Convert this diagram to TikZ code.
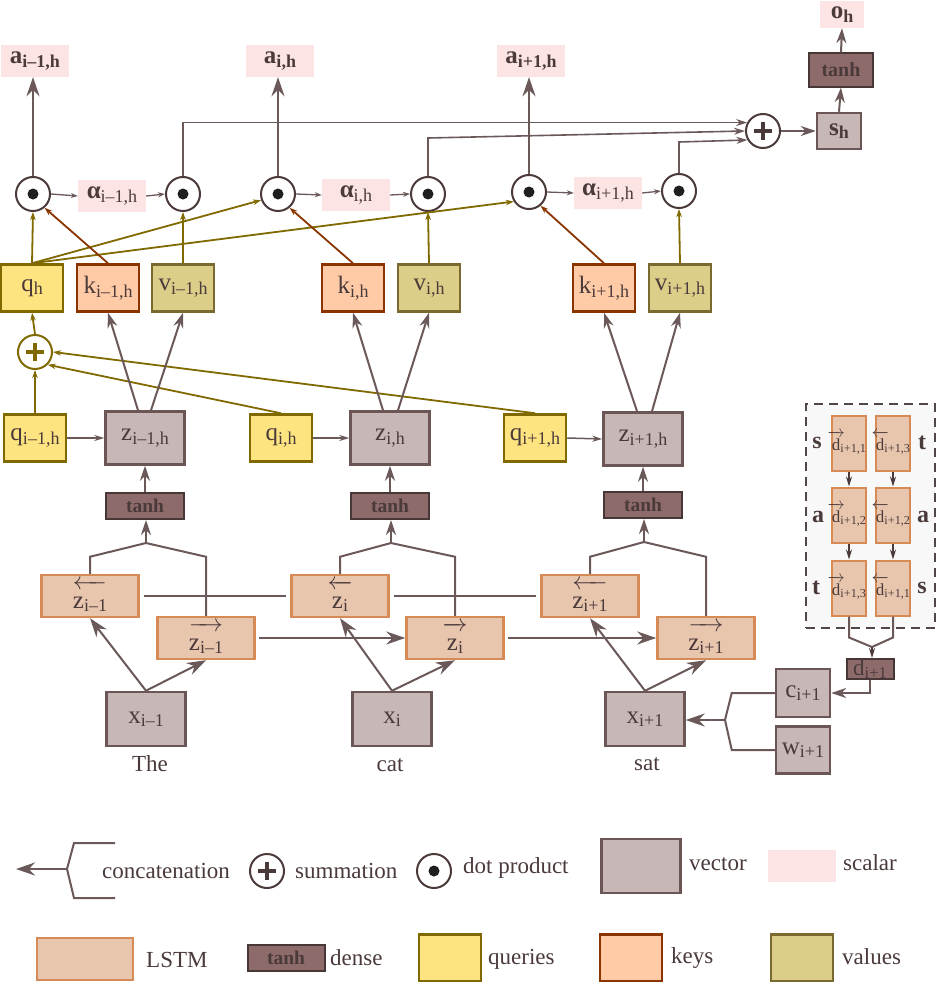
\documentclass[tikz,border=0pt]{standalone}
\usepackage{fontspec}
\usepackage{graphicx}
\usetikzlibrary{arrows.meta}
\setmainfont{Liberation Serif}
\definecolor{txt}{RGB}{75,58,58}
\definecolor{linec}{RGB}{107,88,88}
\definecolor{vecf}{RGB}{200,183,183}
\definecolor{vecb}{RGB}{107,85,85}
\definecolor{dnsf}{RGB}{142,107,107}
\definecolor{dnsb}{RGB}{72,55,55}
\definecolor{sclf}{RGB}{252,228,228}
\definecolor{lstf}{RGB}{232,198,174}
\definecolor{lstb}{RGB}{214,139,87}
\definecolor{qf}{RGB}{254,228,128}
\definecolor{qb}{RGB}{128,106,0}
\definecolor{kf}{RGB}{255,203,166}
\definecolor{kb}{RGB}{138,53,0}
\definecolor{vf}{RGB}{220,206,136}
\definecolor{vb}{RGB}{122,106,48}
\definecolor{qline}{RGB}{128,106,0}
\definecolor{boxbg}{RGB}{248,248,248}
\definecolor{dashc}{RGB}{80,70,70}
\newcommand{\sub}[1]{\raisebox{-0.3ex}{\scalebox{0.72}{#1}}}
\newcommand{\fwd}[1]{$\overrightarrow{\mbox{\rule{0pt}{0.8em}#1}}$}
\newcommand{\bwd}[1]{$\overleftarrow{\mbox{\rule{0pt}{0.8em}#1}}$}
\newcommand{\dfwd}{\makebox[0.5em]{$\overrightarrow{\mbox{\rule{0pt}{0.8em}d}}$}}
\newcommand{\dbwd}{\makebox[0.5em]{$\overleftarrow{\mbox{\rule{0pt}{0.8em}d}}$}}
\begin{document}
\begin{tikzpicture}[x=1pt,y=-1pt]
    \tikzstyle{every node}+=[inner sep=0pt, text=txt, font=\fontsize{25}{28}\selectfont]
    \tikzstyle{vecbox}=[draw=vecb, fill=vecf, line width=2.5pt, minimum width=79pt, minimum height=53pt]
    \tikzstyle{densebox}=[draw=dnsb, fill=dnsf, line width=2pt, minimum width=78pt, minimum height=26pt, font=\fontsize{19.5}{22}\selectfont\bfseries]
    \tikzstyle{lstmbox}=[draw=lstb, fill=lstf, line width=2.5pt, minimum width=97pt, minimum height=42pt]
    \tikzstyle{qbox}=[draw=qb, fill=qf, line width=2.5pt, minimum width=62pt, minimum height=47pt]
    \tikzstyle{kbox}=[qbox, draw=kb, fill=kf]
    \tikzstyle{vbox}=[qbox, draw=vb, fill=vf]
    \tikzstyle{scal}=[fill=sclf, minimum width=68pt, minimum height=32pt, font=\fontsize{25}{28}\selectfont\bfseries]
    \tikzstyle{dotop}=[circle, draw=txt, fill=white, line width=2pt, minimum size=34pt, path picture={\fill[black!88] (path picture bounding box.center) circle (5.5pt);}]
    \tikzstyle{sumop}=[circle, draw=txt, fill=white, line width=2pt, minimum size=34pt, path picture={\draw[txt, line width=3.5pt] (path picture bounding box.center) +(-9pt,0) -- +(9pt,0) +(0,-9pt) -- +(0,9pt);}]
    \tikzstyle{qsumop}=[sumop, draw=qline, path picture={\draw[qline, line width=3.5pt] (path picture bounding box.center) +(-9pt,0) -- +(9pt,0) +(0,-9pt) -- +(0,9pt);}]
    \tikzstyle{dbox}=[lstmbox, line width=2pt, minimum width=32pt, minimum height=55pt, font=\fontsize{17}{19}\selectfont]
    \tikzstyle{side}=[font=\fontsize{24}{26}\selectfont\bfseries]
    \tikzstyle{lbl}=[font=\fontsize{23}{26}\selectfont, anchor=base west]
    \tikzstyle{seg}=[draw=linec, line width=2pt]
    \tikzstyle{conn}=[draw=linec, line width=2pt, -{Stealth[length=15pt,width=10pt]}]
    \tikzstyle{bigconn}=[draw=linec, line width=2pt, -{Stealth[length=19pt,width=13pt]}]
    \tikzstyle{toparr}=[draw=linec, line width=1.6pt, -{Stealth[length=11pt,width=7pt]}]
    \tikzstyle{thinarr}=[draw=linec, line width=1.3pt, -{Stealth[length=7pt,width=5pt]}]
    \tikzstyle{qzarr}=[draw=linec, line width=1.5pt, -{Stealth[length=10pt,width=6pt]}]
    \tikzstyle{darr}=[draw=txt, line width=1.6pt, -{Stealth[length=10pt,width=6pt]}]
    \tikzstyle{qarr}=[draw=qline, line width=1.8pt, -{Stealth[length=8pt,width=5.5pt]}]
    \tikzstyle{karr}=[draw=kb, line width=1.8pt, -{Stealth[length=8pt,width=5.5pt]}]
    \fill[white] (0,0) rectangle (936,982);
    \useasboundingbox (0,0) rectangle (936,982);
    \node[scal] (a1) at (35,61) {a\sub{i–1,h}};
    \node[scal] (a2) at (280,61) {a\sub{i,h}};
    \node[scal] (a3) at (531,61) {a\sub{i+1,h}};
    \node[scal, minimum width=44pt, minimum height=27pt] (oh) at (842,14.5) {o\sub{h}};
    \node[densebox, minimum width=64pt, minimum height=33pt, font=\fontsize{20}{22}\selectfont\bfseries] (th0) at (841,70) {tanh};
    \node[vecbox, minimum width=44pt, minimum height=36pt, font=\fontsize{25}{28}\selectfont\bfseries] (sh) at (839,131) {s\sub{h}};
    \node[sumop] (plus) at (763,131) {};
    \node[dotop] (dt1) at (33,194) {};
    \node[dotop] (dt2) at (183,194) {};
    \node[dotop] (dt3) at (278,194) {};
    \node[dotop] (dt4) at (428,194) {};
    \node[dotop] (dt5) at (529,192) {};
    \node[dotop] (dt6) at (679,191) {};
    \node[scal, font=\fontsize{25}{28}\selectfont] (al1) at (112,196) {\textbf{α}\sub{i–1,h}};
    \node[scal, font=\fontsize{25}{28}\selectfont] (al2) at (356,195) {\textbf{α}\sub{i,h}};
    \node[scal, font=\fontsize{25}{28}\selectfont] (al3) at (608,193) {\textbf{α}\sub{i+1,h}};
    \node[qbox] (qh) at (32,288) {q\sub{h}};
    \node[kbox] (k1) at (108,288) {k\sub{i–1,h}};
    \node[vbox] (v1) at (183,288) {v\sub{i–1,h}};
    \node[kbox] (k2) at (353,288) {k\sub{i,h}};
    \node[vbox] (v2) at (429,288) {v\sub{i,h}};
    \node[kbox] (k3) at (604,288) {k\sub{i+1,h}};
    \node[vbox] (v3) at (680,288) {v\sub{i+1,h}};
    \node[qsumop] (qs) at (35,352) {};
    \node[qbox] (q1) at (35,438) {q\sub{i–1,h}};
    \node[vecbox] (z1) at (145,438) {z\sub{i–1,h}};
    \node[qbox] (q2) at (281,438) {q\sub{i,h}};
    \node[vecbox] (z2) at (390,438) {z\sub{i,h}};
    \node[qbox] (q3) at (535,438) {q\sub{i+1,h}};
    \node[vecbox] (z3) at (643,439) {z\sub{i+1,h}};
    \node[densebox] (th1) at (145,506) {tanh};
    \node[densebox] (th2) at (390,506) {tanh};
    \node[densebox] (th3) at (643,505) {tanh};
    \node[lstmbox] (lb1) at (90,596) {\bwd{z\sub{i–1}}};
    \node[lstmbox] (lb2) at (340,596) {\bwd{z\sub{i}}};
    \node[lstmbox] (lb3) at (590,596) {\bwd{z\sub{i+1}}};
    \node[lstmbox] (lf1) at (206,638) {\fwd{z\sub{i–1}}};
    \node[lstmbox] (lf2) at (455,638) {\fwd{z\sub{i}}};
    \node[lstmbox] (lf3) at (706,638) {\fwd{z\sub{i+1}}};
    \node[vecbox, minimum height=54pt] (x1) at (146,719) {x\sub{i–1}};
    \node[vecbox, minimum height=54pt] (x2) at (392,719) {x\sub{i}};
    \node[vecbox, minimum height=54pt] (x3) at (645,719) {x\sub{i+1}};
    \node[lbl, anchor=base] (w1) at (150,771) {The};
    \node[lbl, anchor=base] (w2) at (390,771) {cat};
    \node[lbl, anchor=base] (w3) at (647,770) {sat};
    \node[draw=dashc, fill=boxbg, dash pattern=on 9pt off 6pt, line width=2pt, minimum width=129pt, minimum height=224pt] (chr) at (870,516) {};
    \node[dbox] (d11) at (849,443) {\dfwd\sub{i+1,1}};
    \node[dbox] (d12) at (849,515) {\dfwd\sub{i+1,2}};
    \node[dbox] (d13) at (849,588) {\dfwd\sub{i+1,3}};
    \node[dbox] (d21) at (893,443) {\dbwd\sub{i+1,3}};
    \node[dbox] (d22) at (893,515) {\dbwd\sub{i+1,2}};
    \node[dbox] (d23) at (893,588) {\dbwd\sub{i+1,1}};
    \node[side] (s1) at (817,443) {s};
    \node[side] (s2) at (818,517) {a};
    \node[side] (s3) at (816,588) {t};
    \node[side] (s4) at (922,443) {t};
    \node[side] (s5) at (923,517) {a};
    \node[side] (s6) at (922,588) {s};
    \node[densebox, minimum width=47pt, minimum height=20pt, font=\fontsize{23}{24}\selectfont] (dc) at (870,669) {d\sub{i+1}};
    \node[vecbox, minimum width=54pt, minimum height=48pt] (ci) at (803,693) {c\sub{i+1}};
    \node[vecbox, minimum width=54pt, minimum height=47pt] (wi) at (803,750) {w\sub{i+1}};
    \coordinate (dj) at (872,647);
    \coordinate (xj) at (725,720);
    \coordinate (cj1) at (146,543);
    \coordinate (cj2) at (391,543);
    \coordinate (cj3) at (644,542);
    \draw[bigconn, line width=2.5pt] (dt1.north) -- (dt1.north |- a1.south);
    \draw[bigconn, line width=2.5pt] (dt3.north) -- (dt3.north |- a2.south);
    \draw[bigconn, line width=2.5pt] (dt5.north) -- (dt5.north |- a3.south);
    \draw[toparr] (dt2.north) |- (plus.152);
    \draw[toparr] (dt4.north) -- ++(0,-38) -- (plus.west);
    \draw[toparr] (dt6.north) -- ++(0,-31) -- (plus.210);
    \draw[conn] (plus.east) -- (sh.west);
    \draw[conn] (sh.north) -- (th0.south);
    \draw[conn] (th0.north) -- (oh.south);
    \draw[thinarr] (dt1.east) -- (al1.west);
    \draw[thinarr] (al1.east) -- (dt2.west);
    \draw[thinarr] (dt3.east) -- (al2.west);
    \draw[thinarr] (al2.east) -- (dt4.west);
    \draw[thinarr] (dt5.east) -- (al3.west);
    \draw[thinarr] (al3.east) -- (dt6.west);
    \draw[qarr] (qh.north) -- (dt1.south);
    \draw[qarr] (qh.north) -- (dt3.200);
    \draw[qarr] (qh.north) -- (dt5.212);
    \draw[karr] (k1.north) -- (dt1.-50);
    \draw[karr] (k2.north) -- (dt3.-50);
    \draw[karr] (k3.north) -- (dt5.-50);
    \draw[qarr] (v1.north) -- (dt2.south);
    \draw[qarr] (v2.north) -- (dt4.south);
    \draw[qarr] (v3.north) -- (dt6.south);
    \draw[qarr] (qs.north) -- (qh.south);
    \draw[qarr] (q1.north) -- (qs.south);
    \draw[qarr] (q2.north) -- (qs.-45);
    \draw[qarr] (q3.north) -- (qs.east);
    \draw[qzarr] (q1.east) -- (z1.west);
    \draw[qzarr] (q2.east) -- (z2.west);
    \draw[qzarr] (q3.east) -- (z3.west);
    \draw[conn] ([xshift=-7pt]z1.north) -- (k1.south);
    \draw[conn] ([xshift=6pt]z1.north) -- (v1.south);
    \draw[conn] ([xshift=-7pt]z2.north) -- (k2.south);
    \draw[conn] ([xshift=8pt]z2.north) -- (v2.south);
    \draw[conn] ([xshift=-6pt]z3.north) -- (k3.south);
    \draw[conn] ([xshift=9pt]z3.north) -- (v3.south);
    \draw[conn] (th1.north) -- (z1.south);
    \draw[conn] (th2.north) -- (z2.south);
    \draw[conn] (th3.north) -- (th3.north |- z3.south);
    \draw[seg] (lb1.north) -- ++(0,-17) -- (cj1);
    \draw[seg] (lf1.north) -- ++(0,-59) -- (cj1);
    \draw[seg] (lb2.north) -- ++(0,-17) -- (cj2);
    \draw[seg] (lf2.north) -- ++(0,-59) -- (cj2);
    \draw[seg] (lb3.north) -- ++(0,-17) -- (cj3);
    \draw[seg] (lf3.north) -- ++(0,-59) -- (cj3);
    \draw[conn] (cj1) -- (cj1 |- th1.south);
    \draw[conn] (cj2) -- (cj2 |- th2.south);
    \draw[conn] (cj3) -- (cj3 |- th3.south);
    \draw[seg, line width=1.5pt] ([xshift=4pt]lb1.east) -- ([xshift=-4pt]lb2.west);
    \draw[seg, line width=1.5pt] ([xshift=4pt]lb2.east) -- ([xshift=-4pt]lb3.west);
    \draw[bigconn, line width=1.5pt] ([xshift=3pt]lf1.east) -- (lf2.west);
    \draw[bigconn, line width=1.5pt] ([xshift=3pt]lf2.east) -- (lf3.west);
    \draw[bigconn] (x1.north) -- (lb1.south);
    \draw[bigconn] (x1.north) -- (lf1.south);
    \draw[bigconn] (x2.north) -- (lb2.south);
    \draw[bigconn] (x2.north) -- (lf2.south);
    \draw[bigconn] (x3.north) -- (lb3.south);
    \draw[bigconn] (x3.north) -- (lf3.south);
    \draw[darr] (d11) -- (d12);
    \draw[darr] (d12) -- (d13);
    \draw[darr] (d21) -- (d22);
    \draw[darr] (d22) -- (d23);
    \draw[seg] (d13.south) -- ++(0,21) -- (dj);
    \draw[seg] (d23.south) -- ++(0,21) -- (dj);
    \draw[darr] (dj) -- (dj |- dc.north);
    \draw[conn] (dc.south) |- (ci.east);
    \draw[seg] (ci.west) -- ++(-43,0) -- (xj);
    \draw[seg] (wi.west) -- ++(-43,0) -- (xj);
    \draw[bigconn] (xj) -- (xj -| x3.east);
    \coordinate (lcj) at (67,869);
    \coordinate (lct) at (16,869);
    \coordinate (lcu) at (115,843);
    \coordinate (lcd) at (115,898);
    \draw[seg] (lcu) -- ++(-41,0) -- (lcj) -- ++(7,29) -- (lcd);
    \draw[bigconn] (lcj) -- (lct);
    \node[lbl] (t1) at (102,878) {concatenation};
    \node[sumop] (lsum) at (267,871) {};
    \node[lbl] (t2) at (295,878) {summation};
    \node[dotop] (ldot) at (434,871) {};
    \node[lbl] (t3) at (463,873) {dot product};
    \node[vecbox, minimum height=54pt] (lvec) at (641,866) {};
    \node[lbl] (t4) at (689,870) {vector};
    \node[scal] (lsc) at (802,866) {};
    \node[lbl] (t5) at (843,870) {scalar};
    \node[lstmbox, minimum width=96pt] (llstm) at (85,959) {};
    \node[lbl] (t6) at (146,967) {LSTM};
    \node[densebox, minimum width=77pt] (lden) at (286,958) {tanh};
    \node[lbl] (t7) at (330,965) {dense};
    \node[qbox] (lq) at (450,958) {};
    \node[lbl] (t8) at (488,964) {queries};
    \node[kbox] (lk) at (631,958) {};
    \node[lbl] (t9) at (671,963) {keys};
    \node[vbox] (lv) at (802,958) {};
    \node[lbl] (t10) at (842,964) {values};
\end{tikzpicture}
\end{document}
